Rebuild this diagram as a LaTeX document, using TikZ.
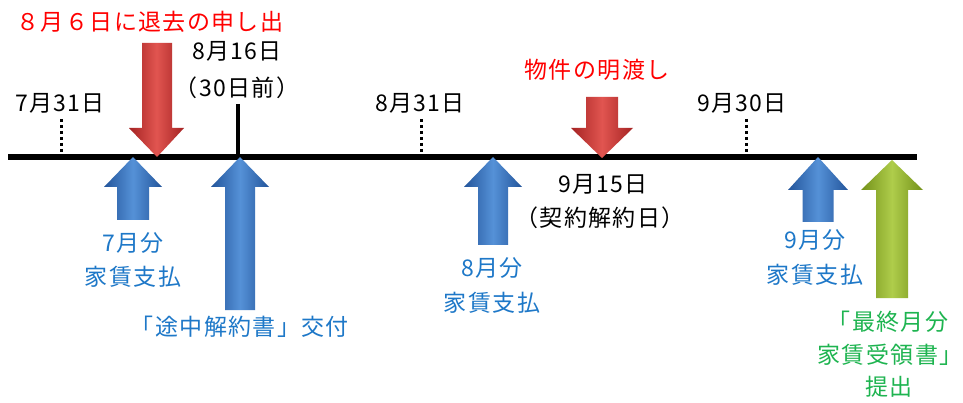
\documentclass[tikz,border=0pt]{standalone}
\usepackage{fontspec}
\setmainfont{Noto Sans CJK JP}[LetterSpace=6]
\definecolor{redtxt}{RGB}{255,0,0}
\definecolor{bluetxt}{RGB}{30,120,200}
\definecolor{greentxt}{RGB}{30,180,80}
\definecolor{redD}{RGB}{165,35,35}
\definecolor{redL}{RGB}{225,85,80}
\definecolor{blueD}{RGB}{35,85,155}
\definecolor{blueL}{RGB}{85,145,215}
\definecolor{greenD}{RGB}{115,145,25}
\definecolor{greenL}{RGB}{175,205,75}
% up arrow: tip x, tip y, head base y, head half width, shaft half width, bottom y
\newcommand\myUpArrow[6]{%
  (#1,#2) -- ({#1+#4},#3) -- ({#1+#5},#3) -- ({#1+#5},#6) -- ({#1-#5},#6) -- ({#1-#5},#3) -- ({#1-#4},#3) -- cycle}
\begin{document}
\begin{tikzpicture}[x=1pt,y=-1pt,
  lbl/.style={font=\fontsize{23}{27}\selectfont, inner sep=0pt},
  redlbl/.style={lbl, text=redtxt},
  bluelbl/.style={lbl, text=bluetxt},
  greenlbl/.style={lbl, text=greentxt},
  dottick/.style={line width=3pt, dash pattern=on 3pt off 3pt},
  redarrow/.style={left color=redD, right color=redD, middle color=redL},
  bluearrow/.style={left color=blueD, right color=blueD, middle color=blueL},
  greenarrow/.style={left color=greenD, right color=greenD, middle color=greenL}]
\useasboundingbox (0,0) rectangle (963,403);
\fill[white] (0,0) rectangle (963,403);
% timeline
\draw[line width=6pt] (8,157) -- (917,157);
% ticks
\draw[dottick] (61,119) -- (61,155);
\draw[dottick] (421,119) -- (421,155);
\draw[dottick] (746,119) -- (746,155);
\draw[line width=3.5pt] (238,104) -- (238,157);
% black labels
\node[lbl] (d731) at (60,103) {7月31日};
\node[lbl] (d816) at (237,51) {8月16日};
\node[lbl] (d816b) at (237,88) {（30日前）};
\node[lbl] (d831) at (420,103) {8月31日};
\node[lbl] (d930) at (742,103) {9月30日};
\node[lbl] (d915) at (603,184) {9月15日};
\node[lbl] (d915b) at (600,218) {（契約解約日）};
% red labels
\node[redlbl] (r1) at (150,22) {８月６日に退去の申し出};
\node[redlbl] (r2) at (597,70) {物件の明渡し};
% red down arrows
\shade[redarrow] (157,157) -- (184,128) -- (172,128) -- (172,43) -- (142,43) -- (142,128) -- (129,128) -- cycle;
\shade[redarrow] (602,158) -- (633,128) -- (618,128) -- (618,97) -- (586,97) -- (586,128) -- (571,128) -- cycle;
% blue up arrows
\shade[bluearrow] \myUpArrow{133}{157}{187}{29}{16}{220};
\shade[bluearrow] \myUpArrow{240}{157}{187}{29}{15}{310};
\shade[bluearrow] \myUpArrow{493}{157}{187}{29}{15}{245};
\shade[bluearrow] \myUpArrow{818}{157}{190}{30}{15.5}{222};
\shade[greenarrow] \myUpArrow{892}{160}{190}{31}{16}{298};
% blue labels
\node[bluelbl] (b1a) at (133,243) {7月分};
\node[bluelbl] (b1b) at (133,277) {家賃支払};
\node[bluelbl] (b2) at (240,327) {「途中解約書」交付};
\node[bluelbl] (b3a) at (492,268) {8月分};
\node[bluelbl] (b3b) at (492,303) {家賃支払};
\node[bluelbl] (b4a) at (815,240) {9月分};
\node[bluelbl] (b4b) at (815,275) {家賃支払};
% green labels
\node[greenlbl] (g1) at (888,322) {「最終月分};
\node[greenlbl] (g2) at (890,355) {家賃受領書」};
\node[greenlbl] (g3) at (889,387) {提出};
\end{tikzpicture}
\end{document}
